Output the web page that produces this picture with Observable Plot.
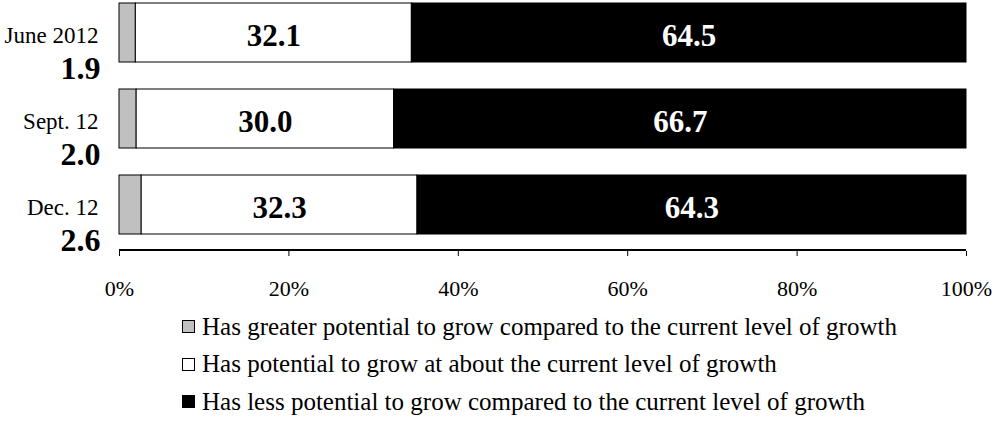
<!DOCTYPE html>
<html>
<head>
<meta charset="utf-8">
<script src="https://cdn.jsdelivr.net/npm/d3@7"></script>
<script src="https://cdn.jsdelivr.net/npm/@observablehq/plot@0.6"></script>
<style>
  body { margin: 0; background: #fff; font-family: "Liberation Serif", "Times New Roman", serif; }
  #chart svg { display: block; }
  #legend { margin-left: 182px; padding-top: 3px; font-size: 25px; color: #000; }
  .row { height: 37.5px; display: flex; align-items: center; white-space: nowrap; }
  .sw { width: 11px; height: 11px; border: 1px solid #000; margin-right: 7px; flex: none; }
</style>
</head>
<body>
<div id="chart"></div>
<div id="legend"></div>
<script>
const dates = ["June 2012", "Sept. 12", "Dec. 12"];
const greater = [1.9, 2.0, 2.6];
const about = [32.1, 30.0, 32.3];
const less = [64.5, 66.7, 64.3];
const categories = [
  "Has greater potential to grow compared to the current level of growth",
  "Has potential to grow at about the current level of growth",
  "Has less potential to grow compared to the current level of growth"
];
const colors = ["#c0c0c0", "#ffffff", "#000000"];
const xTicks = [0, 0.2, 0.4, 0.6, 0.8, 1];

const series = [greater, about, less];
const rows = [];
dates.forEach((d, i) => series.forEach((s, j) => rows.push({date: d, cat: categories[j], value: s[i]})));
const leftRows = dates.map((d, i) => ({date: d, v: greater[i]}));

const stackOpts = {x: "value", y: "date", z: "cat", offset: "normalize", order: categories};

const chart = Plot.plot({
  width: 992,
  height: 305,
  marginLeft: 119,
  marginRight: 26,
  marginTop: 0,
  marginBottom: 54,
  style: {fontFamily: "'Liberation Serif', 'Times New Roman', serif", background: "#fff", color: "#000"},
  x: {domain: [0, 1], label: null},
  y: {domain: dates, range: [2, 236], paddingInner: 0.31, paddingOuter: 0, axis: null},
  color: {domain: categories, range: colors},
  marks: [
    Plot.barX(rows, Plot.stackX({...stackOpts, fill: "cat", stroke: "#000", strokeWidth: 1})),
    Plot.text(rows, Plot.stackX({...stackOpts,
      text: d => d.cat === categories[1] ? d.value.toFixed(1) : null,
      fill: "#000", fontWeight: "bold", fontSize: 31, dy: 3})),
    Plot.text(rows, Plot.stackX({...stackOpts,
      text: d => d.cat === categories[2] ? d.value.toFixed(1) : null,
      fill: "#fff", fontWeight: "bold", fontSize: 31, dy: 3})),
    Plot.text(dates, {y: d => d, text: d => d, frameAnchor: "left", textAnchor: "end", dx: -21, dy: 3, fontSize: 23, fill: "#000"}),
    Plot.text(leftRows, {y: "date", text: d => d.v.toFixed(1), frameAnchor: "left", textAnchor: "end", dx: -19, dy: 36, fontSize: 32, fontWeight: "bold", fill: "#000"}),
    Plot.rect([0], {x1: 0, x2: 1, insetTop: 249, fill: "#000"}),
    Plot.axisX({ticks: xTicks, tickFormat: d3.format(".0%"), tickSize: 5, tickPadding: 24, fontSize: 22, stroke: "#000", fill: "#000", label: null})
  ]
});
document.getElementById("chart").appendChild(chart);

const legend = document.getElementById("legend");
categories.forEach((c, i) => {
  const row = document.createElement("div");
  row.className = "row";
  const sw = document.createElement("div");
  sw.className = "sw";
  sw.style.background = colors[i];
  const t = document.createElement("span");
  t.textContent = c;
  row.appendChild(sw);
  row.appendChild(t);
  legend.appendChild(row);
});
</script>
</body>
</html>
